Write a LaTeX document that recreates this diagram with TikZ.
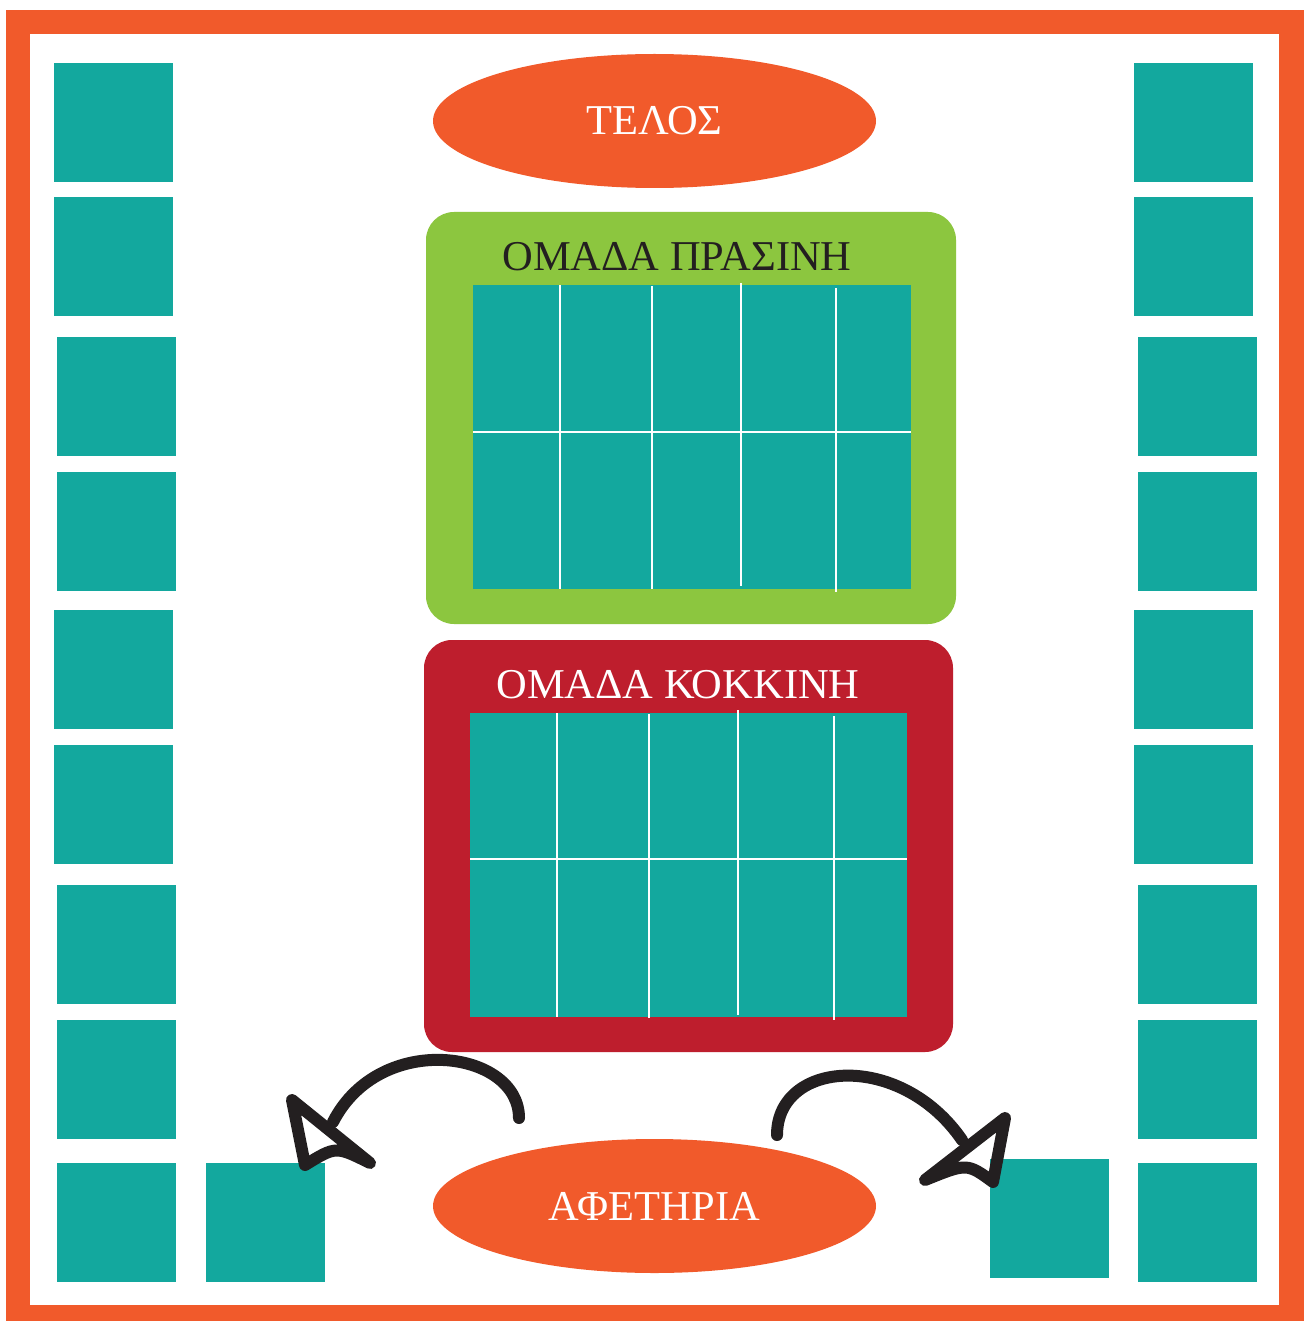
\documentclass[tikz,border=0pt]{standalone}
\usepackage{fontspec}
\setmainfont{Liberation Serif}
\usetikzlibrary{shapes.geometric}
\definecolor{borange}{HTML}{F15A2B}
\definecolor{bteal}{HTML}{13A89E}
\definecolor{bgreen}{HTML}{8CC63F}
\definecolor{bred}{HTML}{BE1E2D}
\definecolor{bdark}{HTML}{231F20}
\tikzset{
  sq/.style={fill=bteal, draw=none, minimum size=119pt, inner sep=0pt, outer sep=0pt},
  oval/.style={ellipse, fill=borange, draw=none, minimum width=443pt, minimum height=134pt, inner sep=0pt, text=white, font=\fontsize{42.5}{42.5}\selectfont},
  panel/.style={draw=none, rounded corners=28pt},
  grid/.style={fill=bteal, draw=none},
  gline/.style={white, line width=2.5pt},
  curvearrow/.style={bdark, line width=12pt, line cap=round, line join=round},
  title/.style={font=\fontsize{42.5}{42.5}\selectfont, inner sep=0pt}
}
\begin{document}
\begin{tikzpicture}[x=1pt,y=-1pt]
\useasboundingbox (0,0) rectangle (1304,1321);
% frame
\fill[borange] (6,10) rectangle (1304,1321);
\fill[white] (30,34) rectangle (1279,1305);
% left column
\node[sq] (l1) at (113.5,122.5) {};
\node[sq] (l2) at (113.5,256.5) {};
\node[sq] (l3) at (116.5,396.5) {};
\node[sq] (l4) at (116.5,531.5) {};
\node[sq] (l5) at (113.5,669.5) {};
\node[sq] (l6) at (113.5,804.5) {};
\node[sq] (l7) at (116.5,944.5) {};
\node[sq] (l8) at (116.5,1079.5) {};
\node[sq] (l9) at (116.5,1222.5) {};
\node[sq] (l10) at (265.5,1222.5) {};
% right column
\node[sq] (r1) at (1193.5,122.5) {};
\node[sq] (r2) at (1193.5,256.5) {};
\node[sq] (r3) at (1197.5,396.5) {};
\node[sq] (r4) at (1197.5,531.5) {};
\node[sq] (r5) at (1193.5,669.5) {};
\node[sq] (r6) at (1193.5,804.5) {};
\node[sq] (r7) at (1197.5,944.5) {};
\node[sq] (r8) at (1197.5,1079.5) {};
\node[sq] (r9) at (1197.5,1222.5) {};
\node[sq] (r10) at (1049.5,1218.5) {};
% ovals
\node[oval] (telos) at (654.5,121) {ΤΕΛΟΣ};
\node[oval] (start) at (654.5,1206) {ΑΦΕΤΗΡΙΑ};
% green panel
\fill[bgreen, panel] (426,212) rectangle (956,624);
\node[title, text=bdark] (gtitle) at (677,257) {ΟΜΑΔΑ ΠΡΑΣΙΝΗ};
\fill[grid] (473,285) rectangle (911,589);
\draw[gline] (473,432) -- (911,432);
\draw[gline] (560,285) -- (560,589);
\draw[gline] (652,286) -- (652,589);
\draw[gline] (741,283) -- (741,586);
\draw[gline] (836,288) -- (836,592);
% red panel
\fill[bred, panel] (424,640) rectangle (953,1052);
\node[title, text=white] (rtitle) at (678,685) {ΟΜΑΔΑ ΚΟΚΚΙΝΗ};
\fill[grid] (470,713) rectangle (907,1017);
\draw[gline] (470,859) -- (907,859);
\draw[gline] (557,713) -- (557,1017);
\draw[gline] (649,714) -- (649,1018);
\draw[gline] (738,710) -- (738,1015);
\draw[gline] (834,716) -- (834,1020);
% arrows
\coordinate (la0) at (519,1118);
\coordinate (la1) at (333,1122);
\coordinate (ltip) at (292,1100);
\coordinate (lbl) at (305,1165);
\coordinate (lbr) at (370,1163);
\draw[curvearrow] (la0) .. controls (519,1050) and (380,1030) .. (la1);
\draw[curvearrow] (ltip) -- (lbr) .. controls (336,1146) .. (lbl) -- cycle;
\coordinate (ra0) at (777,1135);
\coordinate (ra1) at (962,1140);
\coordinate (rtip) at (1005,1118);
\coordinate (rbr) at (993,1182);
\coordinate (rbl) at (925,1180);
\draw[curvearrow] (ra0) .. controls (777,1060) and (900,1050) .. (ra1);
\draw[curvearrow] (rtip) -- (rbl) .. controls (967,1163) .. (rbr) -- cycle;
\end{tikzpicture}
\end{document}
